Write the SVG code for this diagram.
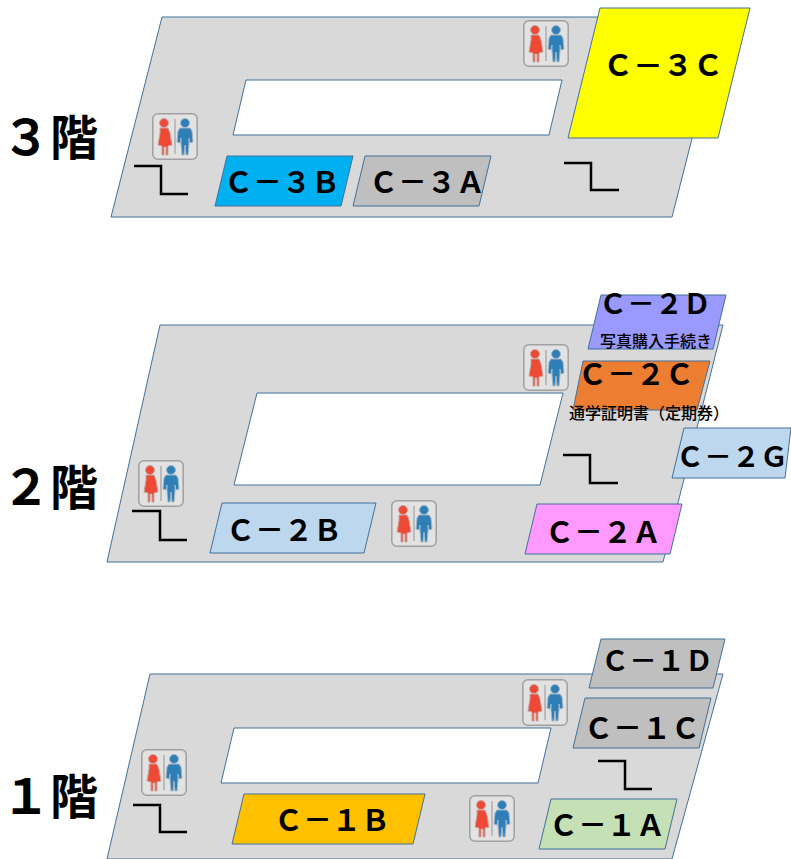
<svg xmlns="http://www.w3.org/2000/svg" width="791" height="859" viewBox="0 0 791 859">
<style>
.floor{fill:#d9d9d9;stroke:#41719c;stroke-width:1}
.hole{fill:#fff;stroke:#41719c;stroke-width:1}
.room{stroke:#41719c;stroke-width:1}
.stair{fill:none;stroke:#000;stroke-width:2.5}
text{font-family:"Noto Sans CJK JP","Liberation Sans",sans-serif;fill:#000}
.l{font-size:29px;font-weight:700;text-anchor:middle}
.n{font-size:28px}
.f{font-size:48px;font-weight:700;text-anchor:middle}
.s{font-size:16px;font-weight:500;text-anchor:middle}
</style>
<defs>
<filter id="soft" x="-10%" y="-10%" width="120%" height="120%"><feGaussianBlur stdDeviation="0.45"/></filter>
<g id="wc" filter="url(#soft)">
<rect x="0.8" y="0.8" width="44.4" height="45.4" rx="5" fill="#e2e2e2" stroke="#a0a0a0" stroke-width="1.5"/>
<rect x="22" y="6" width="2" height="35" fill="#bbb"/>
<g fill="#ee4a35" stroke="#c9a5a0" stroke-width="1"><circle cx="12" cy="10" r="4.5"/><path d="M8 15h8l2 5 2 12-4 1v9h-2v-8h-2v8h-2v-9l-4-1 2-12z"/></g>
<g fill="#2f7fb8" stroke="#a0b5c5" stroke-width="1"><circle cx="33" cy="10" r="4.5"/><path d="M28 15h10l2 3 1 11-3 1-1-5v6l-1 11h-2l-1-10-1 10h-2l-1-11v-6l-1 5-3-1 1-11z"/></g>
</g>
</defs>
<g id="connectors"></g>
<g id="floor-3">
<polygon class="floor" points="162,17 723,17 672,217 111,217"/>
<polygon class="hole" points="246,80 562,80 549,135 233,135"/>
<path class="stair" d="M134 166H161V194H188"/>
<path class="stair" d="M564 163H591V190H619"/>
<use href="#wc" x="152" y="113"/>
<use href="#wc" x="523" y="20"/>
</g>
<g id="C-3C"><polygon class="room" fill="#ffff00" points="600,8 750,8 718,138 568,138"/><text class="l" x="663" y="76" style="font-size:30px">Ｃ－３Ｃ</text></g>
<g id="C-3B"><polygon class="room" fill="#00b0f0" points="227,156 353,156 341,206 215,206"/><text class="l" x="282" y="193">Ｃ－３Ｂ</text></g>
<g id="C-3A"><polygon class="room" fill="#bfbfbf" points="365,156 491,156 479,206 353,206"/><text class="l" x="427" y="193">Ｃ－３Ａ</text></g>
<text id="label-3" class="f" x="50" y="155">３階</text>

<g id="floor-2">
<polygon class="floor" points="160,325 723,325 663,562 107,562"/>
<polygon class="hole" points="257,393 563,393 540,485 234,485"/>
<path class="stair" d="M132 511H160V540H187"/>
<path class="stair" d="M563 455H590V483H618"/>
<use href="#wc" x="138" y="460"/>
<use href="#wc" x="523" y="344"/>
<use href="#wc" x="391" y="500"/>
</g>
<g id="C-2D"><polygon class="room" fill="#9999ff" points="601,295 726,295 713,349 588,349"/><text class="l n" x="655" y="314">Ｃ－２Ｄ</text><text class="s" x="656" y="347">写真購入手続き</text></g>
<g id="C-2C"><polygon class="room" fill="#ed7d31" points="583,361 710,361 697,410 573,410"/><text class="l" x="636" y="385">Ｃ－２Ｃ</text><text class="s" x="649" y="419">通学証明書（定期券）</text></g>
<g id="C-2G"><polygon class="room" fill="#bdd7ee" points="684,428 791,428 785,478 672,478"/><text class="l n" x="732" y="467">Ｃ－２Ｇ</text></g>
<g id="C-2B"><polygon class="room" fill="#bdd7ee" points="222,503 376,503 364,553 210,553"/><text class="l" x="284" y="541">Ｃ－２Ｂ</text></g>
<g id="C-2A"><polygon class="room" fill="#ff99ff" points="537,504 682,504 670,554 525,554"/><text class="l" x="603" y="543">Ｃ－２Ａ</text></g>
<text id="label-2" class="f" x="50" y="505">２階</text>

<g id="floor-1">
<polygon class="floor" points="150,674 723,674 672,859 107,859"/>
<polygon class="hole" points="234,728 551,728 538,783 221,783"/>
<path class="stair" d="M133 805H160V832H187"/>
<path class="stair" d="M598 761H625V789H652"/>
<use href="#wc" x="141" y="749"/>
<use href="#wc" x="522" y="679"/>
<use href="#wc" x="469" y="795"/>
</g>
<g id="C-1D"><polygon class="room" fill="#bfbfbf" points="601,639 725,639 713,688 589,688"/><text class="l n" x="657" y="671">Ｃ－１Ｄ</text></g>
<g id="C-1C"><polygon class="room" fill="#bfbfbf" points="585,698 711,698 699,748 573,748"/><text class="l" x="642" y="739">Ｃ－１Ｃ</text></g>
<g id="C-1B"><polygon class="room" fill="#ffc000" points="244,794 425,794 413,844 232,844"/><text class="l" x="332" y="831">Ｃ－１Ｂ</text></g>
<g id="C-1A"><polygon class="room" fill="#c5e0b4" points="551,799 677,799 665,849 539,849"/><text class="l" x="607" y="836">Ｃ－１Ａ</text></g>
<text id="label-1" class="f" x="50" y="814">１階</text>
</svg>
